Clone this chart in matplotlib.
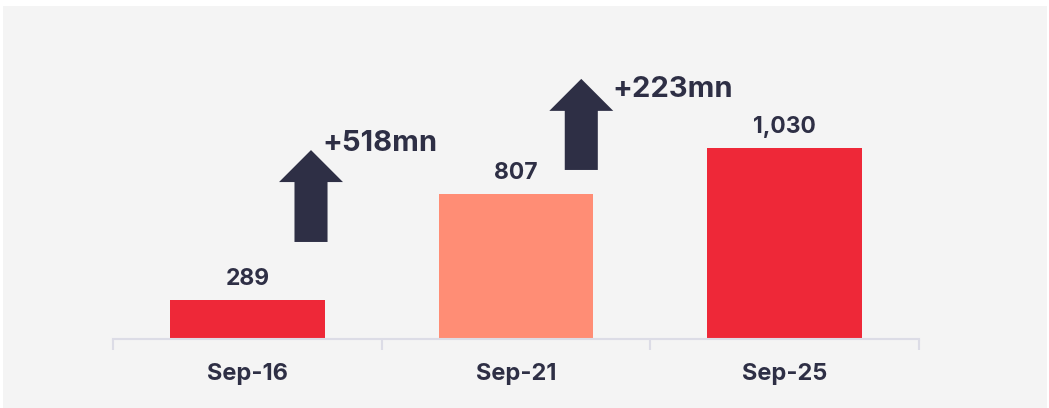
import matplotlib.pyplot as plt
from matplotlib.patches import Rectangle

# --- datos ---
categorias = ['Sep-16', 'Sep-21', 'Sep-25']
valores = [289, 807, 1030]
etiquetas = ['289', '807', '1,030']
colores = ['#ee2838', '#ff8d75', '#ee2838']
incrementos = ['+518mn', '+223mn']

NAVY = '#2e2f45'
FONDO = '#f4f4f4'
EJE = '#dcdce6'

plt.rcParams['font.family'] = ['Inter', 'DejaVu Sans']

fig = plt.figure(figsize=(10.49, 4.08), dpi=100)
fig.patch.set_facecolor('white')
fig.add_artist(Rectangle((3 / 1049, 0), 1044 / 1049, 402 / 408,
                         transform=fig.transFigure, facecolor=FONDO,
                         edgecolor='none', zorder=-10))

ax = fig.add_axes([113 / 1049, 69 / 408, 806 / 1049, 319 / 408])
ax.set_facecolor('none')
ax.set_zorder(1)

x = list(range(len(categorias)))
ax.bar(x, valores, width=0.575, color=colores, zorder=2)
ax.set_xlim(-0.5, 2.5)
ax.set_ylim(99, 1654)

for xi, v, t in zip(x, valores, etiquetas):
    ax.text(xi, v + 50, t, ha='center', va='bottom', fontsize=16.5,
            fontweight='bold', color=NAVY)


# flechas de crecimiento
def flecha(cx, y0, y1, ancho=0.123, cabeza=0.238, largo=156):
    xs = [cx - ancho / 2, cx - ancho / 2, cx - cabeza / 2, cx,
          cx + cabeza / 2, cx + ancho / 2, cx + ancho / 2]
    ys = [y0, y1 - largo, y1 - largo, y1, y1 - largo, y1 - largo, y0]
    ax.fill(xs, ys, color=NAVY, zorder=3, linewidth=0)


flecha(0.237, 572, 1020)
flecha(1.243, 923, 1367)
ax.text(0.28, 1050, incrementos[0], ha='left', va='center', fontsize=21,
        fontweight='bold', color=NAVY)
ax.text(1.36, 1313, incrementos[1], ha='left', va='center', fontsize=21,
        fontweight='bold', color=NAVY)

# ejes
for s in ['top', 'right', 'left']:
    ax.spines[s].set_visible(False)
ax.spines['bottom'].set_color(EJE)
ax.spines['bottom'].set_linewidth(1.5)
ax.set_yticks([])
ax.set_xticks(x)
ax.set_xticklabels(categorias, fontsize=17, fontweight='bold', color=NAVY)
ax.tick_params(axis='x', length=0, pad=17)
ax.set_xticks([-0.5, 0.5, 1.5, 2.5], minor=True)
ax.tick_params(axis='x', which='minor', length=8, width=1.5, color=EJE)

fig.savefig('out.png', dpi=100, facecolor=fig.get_facecolor())
